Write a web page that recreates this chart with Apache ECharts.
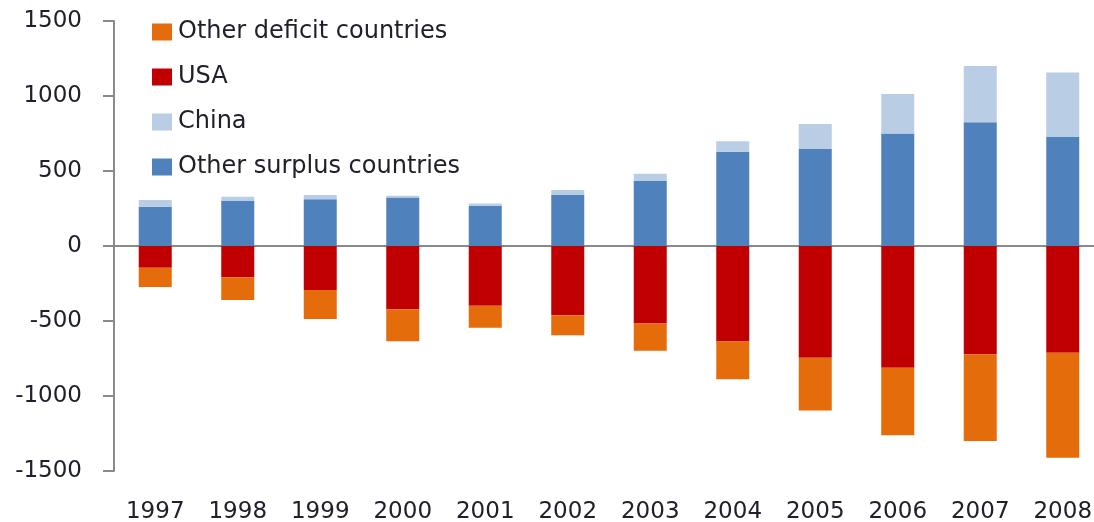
<!DOCTYPE html>
<html>
<head>
<meta charset="utf-8">
<script src="https://cdn.jsdelivr.net/npm/echarts@6/dist/echarts.min.js"></script>
<style>
  html, body { margin: 0; padding: 0; background: #fff; }
  #chart { width: 1094px; height: 522px; }
</style>
</head>
<body>
<div id="chart"></div>
<script>
// years on the x axis
var years = ['1997', '1998', '1999', '2000', '2001', '2002', '2003', '2004', '2005', '2006', '2007', '2008'];
// current account balances
var otherSurplus = [262, 300, 311, 324, 268, 340, 433, 628, 646, 750, 825, 726];
var china = [44, 28, 29, 11, 16, 33, 48, 71, 168, 264, 375, 430];
var usa = [-145, -208, -293, -421, -398, -462, -517, -637, -745, -811, -722, -711];
var otherDeficit = [-128, -152, -193, -214, -147, -133, -182, -252, -352, -451, -578, -700];
var legendOrder = ['Other deficit countries', 'USA', 'China', 'Other surplus countries'];

var textColor = '#20202c';
var axisColor = '#8a8a8a';
var font = 'DejaVu Sans';

var myChart = echarts.init(document.getElementById('chart'));

function barSeries(name, data, color) {
  return {
    name: name,
    type: 'bar',
    stack: 'total',
    barWidth: 33,
    xAxisIndex: 0,
    data: data,
    itemStyle: { color: color },
    emphasis: { disabled: true }
  };
}

var option = {
  animation: false,
  textStyle: { fontFamily: font },
  legend: {
    data: legendOrder,
    orient: 'vertical',
    left: 147,
    top: 15,
    itemWidth: 20,
    itemHeight: 17,
    itemGap: 21,
    icon: 'rect',
    textStyle: { fontFamily: font, fontSize: 24, color: textColor, lineHeight: 24, padding: [0, 0, 0, 1] }
  },
  grid: {
    left: 114,
    top: 21,
    width: 990,
    height: 450,
    outerBoundsMode: 'none',
    containLabel: false
  },
  xAxis: [
    {
      type: 'category',
      data: years,
      position: 'bottom',
      axisLine: { onZero: true, lineStyle: { color: axisColor, width: 2 } },
      axisTick: { length: 9, lineStyle: { color: axisColor, width: 2 } },
      axisLabel: { show: false }
    },
    {
      type: 'category',
      data: years,
      position: 'bottom',
      axisLine: { show: false, onZero: false },
      axisTick: { show: false },
      axisLabel: { margin: 30, fontFamily: font, fontSize: 23, color: textColor }
    }
  ],
  yAxis: {
    type: 'value',
    min: -1500,
    max: 1500,
    interval: 500,
    axisLine: { show: true, lineStyle: { color: axisColor, width: 2 } },
    axisTick: { show: true, length: 11, lineStyle: { color: axisColor, width: 2 } },
    axisLabel: {
      margin: 32,
      fontFamily: font,
      fontSize: 23,
      color: textColor,
      formatter: function (v) { return String(v); }
    },
    splitLine: { show: false }
  },
  series: [
    barSeries('Other surplus countries', otherSurplus, '#4f81bd'),
    barSeries('China', china, '#b9cde5'),
    barSeries('USA', usa, '#c00000'),
    barSeries('Other deficit countries', otherDeficit, '#e46c0a')
  ]
};

myChart.setOption(option);
window.addEventListener('resize', function () {
  myChart.resize();
});
</script>
</body>
</html>
